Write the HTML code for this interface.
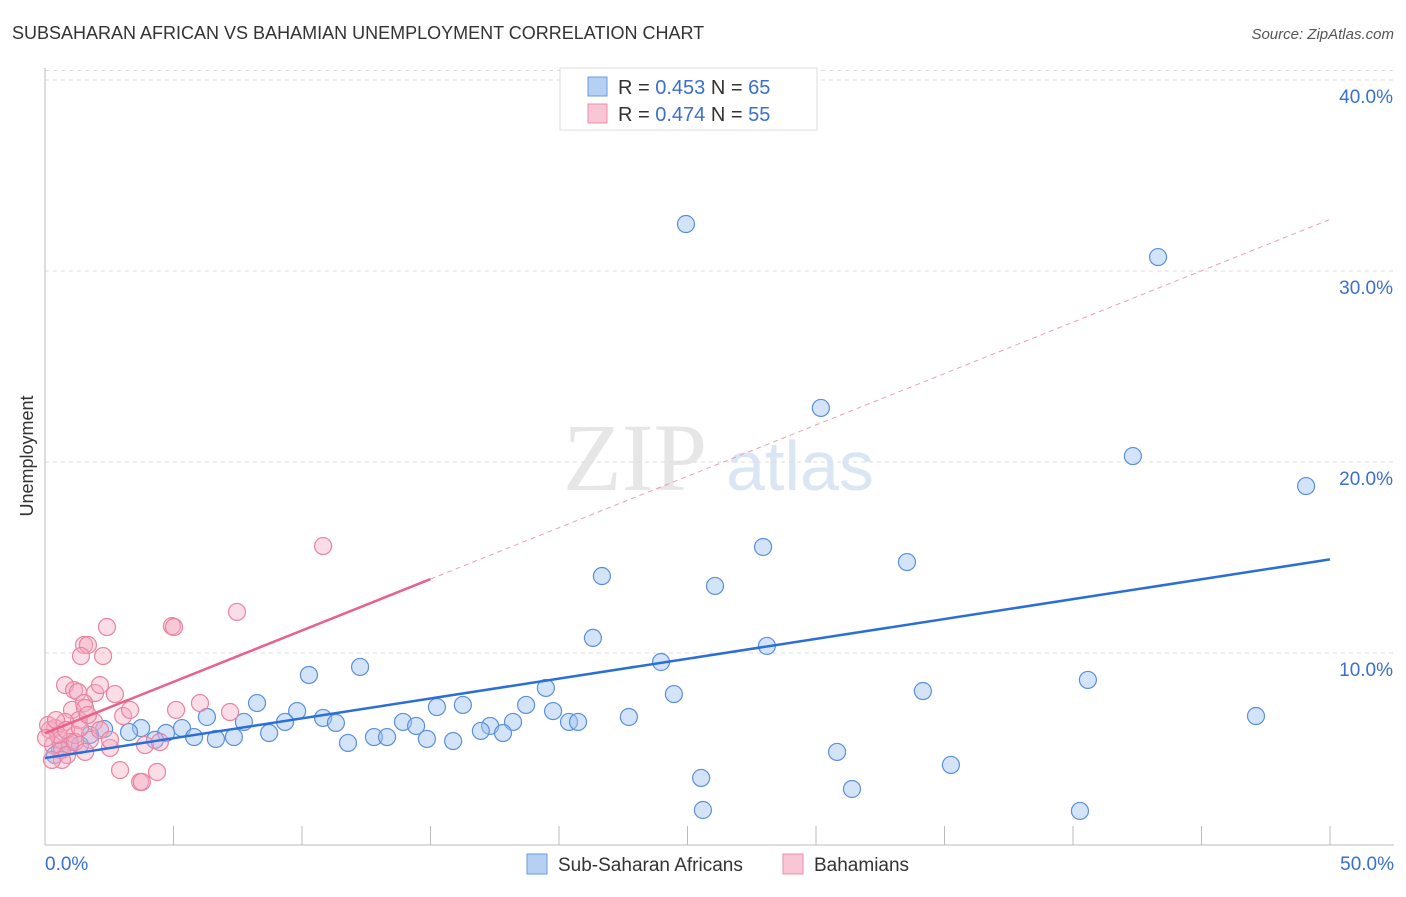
<!DOCTYPE html>
<html><head><meta charset="utf-8"><style>
body{margin:0;background:#fff;font-family:"Liberation Sans",sans-serif}
</style></head><body>
<svg id="chart" width="1406" height="892" xmlns="http://www.w3.org/2000/svg" font-family="Liberation Sans, sans-serif">
<text x="12" y="39" font-size="18" fill="#333">SUBSAHARAN AFRICAN VS BAHAMIAN UNEMPLOYMENT CORRELATION CHART</text>
<text x="1394" y="39" font-size="15" fill="#555" text-anchor="end" font-style="italic">Source: ZipAtlas.com</text>
<text x="635" y="490" font-size="96" fill="#e6e6e6" text-anchor="middle" font-family="Liberation Serif, serif">ZIP</text>
<text x="800" y="490" font-size="70" fill="#dbe6f5" text-anchor="middle">atlas</text>
<text transform="translate(33,456) rotate(-90)" font-size="18" fill="#333" text-anchor="middle">Unemployment</text>
<g id="grid"></g><g id="axes"></g><g id="marks"></g>
<g>
<rect x="560" y="68" width="257" height="62" fill="#fff" stroke="#ddd"/>
<rect x="588" y="77" width="19" height="19" fill="#b5d0f3" stroke="#6b9ae0"/>
<text x="618" y="94" font-size="20" fill="#333">R = <tspan fill="#3a6fd0">0.453</tspan>   N = <tspan fill="#3a6fd0">65</tspan></text>
<rect x="588" y="104" width="19" height="19" fill="#f8c6d4" stroke="#ea8faa"/>
<text x="618" y="121" font-size="20" fill="#333">R = <tspan fill="#3a6fd0">0.474</tspan>   N = <tspan fill="#3a6fd0">55</tspan></text>
</g>
<g>
<rect x="527" y="854" width="20" height="20" fill="#b5d0f3" stroke="#6b9ae0"/>
<text x="558" y="871" font-size="19" fill="#333">Sub-Saharan Africans</text>
<rect x="783" y="854" width="20" height="20" fill="#f8c6d4" stroke="#ea8faa"/>
<text x="814" y="871" font-size="19" fill="#333">Bahamians</text>
</g>
</svg>
<script>
const xTicks=[0,5,10,15,20,25,30,35,40,45,50];
const yTicks=[10,20,30,40];
const yTickLabels=["10.0%","20.0%","30.0%","40.0%"];
const xEndLabels=["0.0%","50.0%"];
const blueX=[24.94,43.31,30.19,42.33,49.07,27.94,33.54,21.67,26.07,21.32,28.09,23.97,12.26,10.27,40.58,34.16,24.47,19.49,8.25,15.25,16.26,18.72,9.81,6.30,10.82,19.77,22.72,47.12,7.74,9.34,11.32,13.93,14.44,18.21,20.39,20.74,3.74,5.33,4.71,3.27,2.30,17.32,16.96,17.82,5.80,7.35,6.65,8.72,12.80,13.31,14.86,15.88,11.79,4.28,30.82,35.25,25.53,31.40,25.60,40.27,1.75,0.97,0.58,0.39,1.36];
const blueY=[32.46,30.73,22.83,20.31,18.74,15.55,14.76,14.03,13.51,10.79,10.37,9.53,9.27,8.85,8.59,8.01,7.85,8.17,7.38,7.17,7.28,7.28,6.96,6.65,6.60,6.96,6.65,6.70,6.39,6.39,6.34,6.39,6.18,6.39,6.39,6.39,6.07,6.07,5.81,5.86,6.02,6.18,5.92,5.81,5.60,5.60,5.50,5.81,5.60,5.60,5.50,5.39,5.29,5.45,4.82,4.14,3.46,2.88,1.78,1.73,5.71,5.34,4.92,4.66,5.18];
const pinkX=[10.82,7.47,2.41,4.94,5.02,1.52,1.67,1.40,2.26,0.78,1.13,1.28,1.95,2.72,2.14,1.52,1.05,1.56,5.10,6.03,7.20,3.04,3.31,1.32,0.78,0.39,0.19,0.58,0.97,0.31,0.66,0.86,0.51,1.17,1.75,2.53,3.89,4.47,2.92,4.36,3.70,3.77,0.66,0.12,0.27,0.43,0.82,1.17,1.91,2.14,2.53,1.56,0.04,1.36,1.67];
const pinkY=[15.60,12.15,11.36,11.41,11.36,10.42,10.42,9.84,9.84,8.32,8.06,7.96,7.91,7.85,8.32,7.38,7.02,7.12,7.02,7.38,6.91,6.70,7.02,6.49,6.39,6.07,5.97,5.45,5.18,5.18,4.92,4.66,5.71,5.71,5.45,5.03,5.18,5.34,3.87,3.77,3.25,3.25,4.40,6.23,4.40,6.49,5.97,5.34,6.39,5.97,5.45,4.82,5.55,6.07,6.75];
const blueTrend=[4.5,14.9];
const pinkTrend=[5.8,0.538];
const X=v=>45+v*25.7, Y=v=>844-v*19.1;
const NS="http://www.w3.org/2000/svg";
function mk(p,t,a){const e=document.createElementNS(NS,t);for(const k in a)e.setAttribute(k,a[k]);p.appendChild(e);return e;}
const grid=document.getElementById('grid'),axes=document.getElementById('axes'),marks=document.getElementById('marks');
yTicks.forEach((v,i)=>{const l=mk(grid,'line',{x1:45,x2:1394,y1:Y(v),y2:Y(v),stroke:'#ddd','stroke-dasharray':'4,4'});


const t=mk(axes,'text',{x:1393,y:Y(v)+23,'font-size':19,fill:'#3a6fd0','text-anchor':'end'});t.textContent=yTickLabels[i];

});
const tl=mk(grid,'line',{x1:45,x2:1394,y1:Y(40.5),y2:Y(40.5),stroke:'#ddd','stroke-dasharray':'4,4'});


const ya=mk(axes,'line',{x1:45,x2:45,y1:68,y2:845,stroke:'#bbb'});


const xa=mk(axes,'line',{x1:45,x2:1394,y1:845,y2:845,stroke:'#bbb'});


xTicks.forEach(v=>{if(v===0)return;const l=mk(axes,'line',{x1:X(v),x2:X(v),y1:826,y2:845,stroke:'#bbb'});

});
[[0,'start',45],[50,'end',1394]].forEach((d,i)=>{const t=mk(axes,'text',{x:d[2],y:870,'font-size':19,fill:'#3a6fd0','text-anchor':d[1]});t.textContent=xEndLabels[i];

});
blueX.forEach((x,i)=>{const c=mk(marks,'circle',{cx:X(x),cy:Y(blueY[i]),r:8.5,fill:'rgba(160,196,240,0.45)',stroke:'#5b8fdc','stroke-width':1.2});

});
pinkX.forEach((x,i)=>{const c=mk(marks,'circle',{cx:X(x),cy:Y(pinkY[i]),r:8.5,fill:'rgba(245,170,195,0.4)',stroke:'#e8849f','stroke-width':1.2});

});
const bl=mk(marks,'line',{x1:X(0),y1:Y(blueTrend[0]),x2:X(50),y2:Y(blueTrend[1]),stroke:'#2a6ed8','stroke-width':2.5});


const pl=mk(marks,'line',{x1:X(0),y1:Y(pinkTrend[0]),x2:X(15),y2:Y(pinkTrend[0]+pinkTrend[1]*15),stroke:'#e8628c','stroke-width':2.5});


const pd=mk(marks,'line',{x1:X(15),y1:Y(pinkTrend[0]+pinkTrend[1]*15),x2:X(50),y2:Y(pinkTrend[0]+pinkTrend[1]*50),stroke:'#e8a0b5','stroke-width':1,'stroke-dasharray':'5,4'});


</script>
</body></html>
